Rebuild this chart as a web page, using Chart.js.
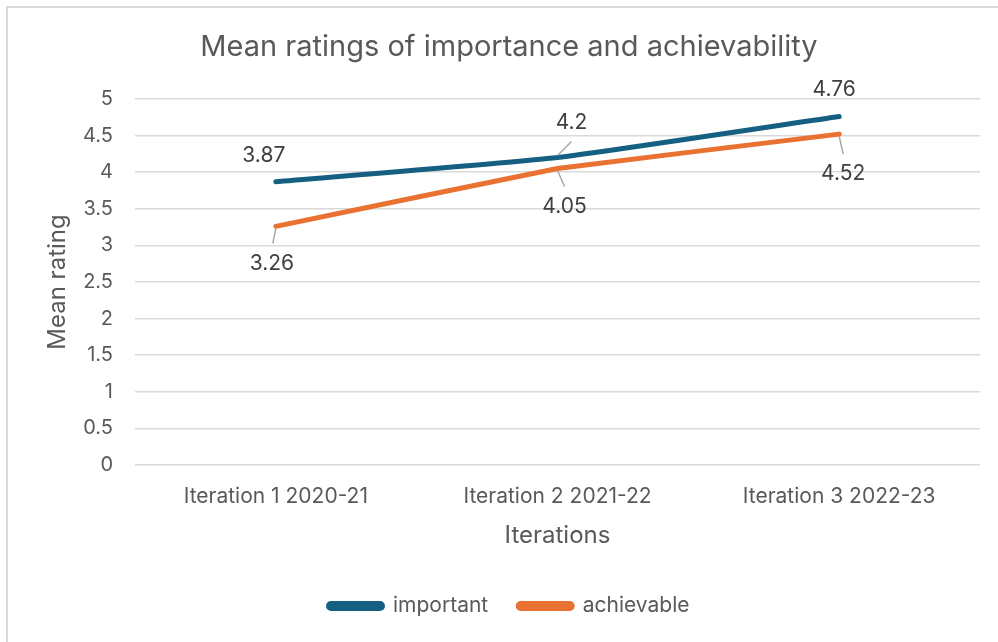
<!DOCTYPE html>
<html>
<head>
<meta charset="utf-8">
<script src="https://cdn.jsdelivr.net/npm/chart.js@4.4.1/dist/chart.umd.min.js"></script>
<style>
    html, body { margin: 0; padding: 0; background: #ffffff; overflow: hidden; }
    #frame {
        position: absolute; left: 6px; top: 6px; width: 1000px; height: 650px;
        border: 2px solid #d9d9d9; box-sizing: border-box;
    }
    #wrap { position: absolute; left: 0; top: 0; width: 998px; height: 642px; }
</style>
</head>
<body>
<div id="frame"></div>
<div id="wrap"><canvas id="ratingsChart"></canvas></div>
<script>
const iterations = ["Iteration 1 2020-21", "Iteration 2 2021-22", "Iteration 3 2022-23"];
const importantValues = [3.87, 4.2, 4.76];
const achievableValues = [3.26, 4.05, 4.52];
const yTicks = [0, 0.5, 1, 1.5, 2, 2.5, 3, 3.5, 4, 4.5, 5];

const textColor = "#595959";
const fontFamily = "Inter, 'Open Sans', 'Liberation Sans', sans-serif";

// where each value label sits relative to its point; lead = end of the leader line
const labelPlacement = [
    [
        { dx: -12, dy: -26, lead: null },
        { dx: 14, dy: -35, lead: [14, -16] },
        { dx: -5, dy: -27, lead: null },
    ],
    [
        { dx: -4, dy: 37, lead: [-3, 17] },
        { dx: 7, dy: 38, lead: [7, 18] },
        { dx: 4, dy: 40, lead: [4, 20] },
    ],
];

const valueLabels = {
    id: "valueLabels",
    afterDatasetsDraw(chart) {
        const ctx = chart.ctx;
        ctx.save();
        ctx.font = "21px " + fontFamily;
        ctx.textAlign = "center";
        ctx.textBaseline = "middle";
        chart.data.datasets.forEach((ds, di) => {
            chart.getDatasetMeta(di).data.forEach((pt, i) => {
                const place = labelPlacement[di][i];
                if (place.lead) {
                    const dir = Math.sign(place.lead[1]);
                    ctx.strokeStyle = "#a6a6a6";
                    ctx.lineWidth = 1.5;
                    ctx.beginPath();
                    ctx.moveTo(pt.x, pt.y + dir * 2);
                    ctx.lineTo(pt.x + place.lead[0], pt.y + place.lead[1]);
                    ctx.stroke();
                }
                ctx.fillStyle = "#404040";
                ctx.fillText(String(ds.data[i]), pt.x + place.dx, pt.y + place.dy);
            });
        });
        ctx.restore();
    },
};

new Chart(document.getElementById("ratingsChart"), {
    type: "line",
    data: {
        labels: iterations,
        datasets: [
            {
                label: "important",
                data: importantValues,
                borderColor: "#156082",
                backgroundColor: "#156082",
                borderWidth: 5,
                borderCapStyle: "round",
                pointRadius: 0,
                tension: 0.15,
            },
            {
                label: "achievable",
                data: achievableValues,
                borderColor: "#e97132",
                backgroundColor: "#e97132",
                borderWidth: 5,
                borderCapStyle: "round",
                pointRadius: 0,
                tension: 0.05,
            },
        ],
    },
    options: {
        responsive: true,
        maintainAspectRatio: false,
        animation: false,
        layout: { padding: { left: 20, right: 0, top: 0, bottom: 15.5 } },
        plugins: {
            title: {
                display: true,
                text: "Mean ratings of importance and achievability",
                color: textColor,
                font: { family: fontFamily, size: 29, weight: "normal" },
                padding: { top: 29.6, bottom: 34.6 },
            },
            legend: {
                position: "bottom",
                labels: {
                    color: textColor,
                    font: { family: fontFamily, size: 21 },
                    boxWidth: 54,
                    boxHeight: 5,
                    useBorderRadius: true,
                    borderRadius: 2.5,
                    padding: 30,
                },
            },
            tooltip: { enabled: false },
        },
        scales: {
            x: {
                offset: true,
                afterFit: (scale) => { scale.height = 100.5; },
                grid: { display: false },
                border: { display: false },
                ticks: { color: textColor, font: { family: fontFamily, size: 21 }, padding: 11, maxRotation: 0 },
                title: {
                    display: true,
                    text: "Iterations",
                    color: textColor,
                    font: { family: fontFamily, size: 24 },
                    padding: { top: 4, bottom: 15 },
                },
            },
            y: {
                min: 0,
                max: 5,
                afterBuildTicks: (scale) => { scale.ticks = yTicks.map((v) => ({ value: v })); },
                afterFit: (scale) => { scale.width = 115; },
                grid: { color: "#d9d9d9", lineWidth: 1.5, drawTicks: false },
                border: { display: false },
                ticks: {
                    color: textColor,
                    font: { family: fontFamily, size: 20 },
                    padding: 22,
                    callback: (value) => String(value),
                },
                title: {
                    display: true,
                    text: "Mean rating",
                    color: textColor,
                    font: { family: fontFamily, size: 24 },
                    padding: { top: 23.6 },
                },
            },
            // empty axis that only reserves the right margin
            yRight: {
                position: "right",
                afterFit: (scale) => { scale.width = 18; },
                grid: { display: false },
                border: { display: false },
                ticks: { display: false },
            },
        },
    },
    plugins: [valueLabels],
});
</script>
</body>
</html>
